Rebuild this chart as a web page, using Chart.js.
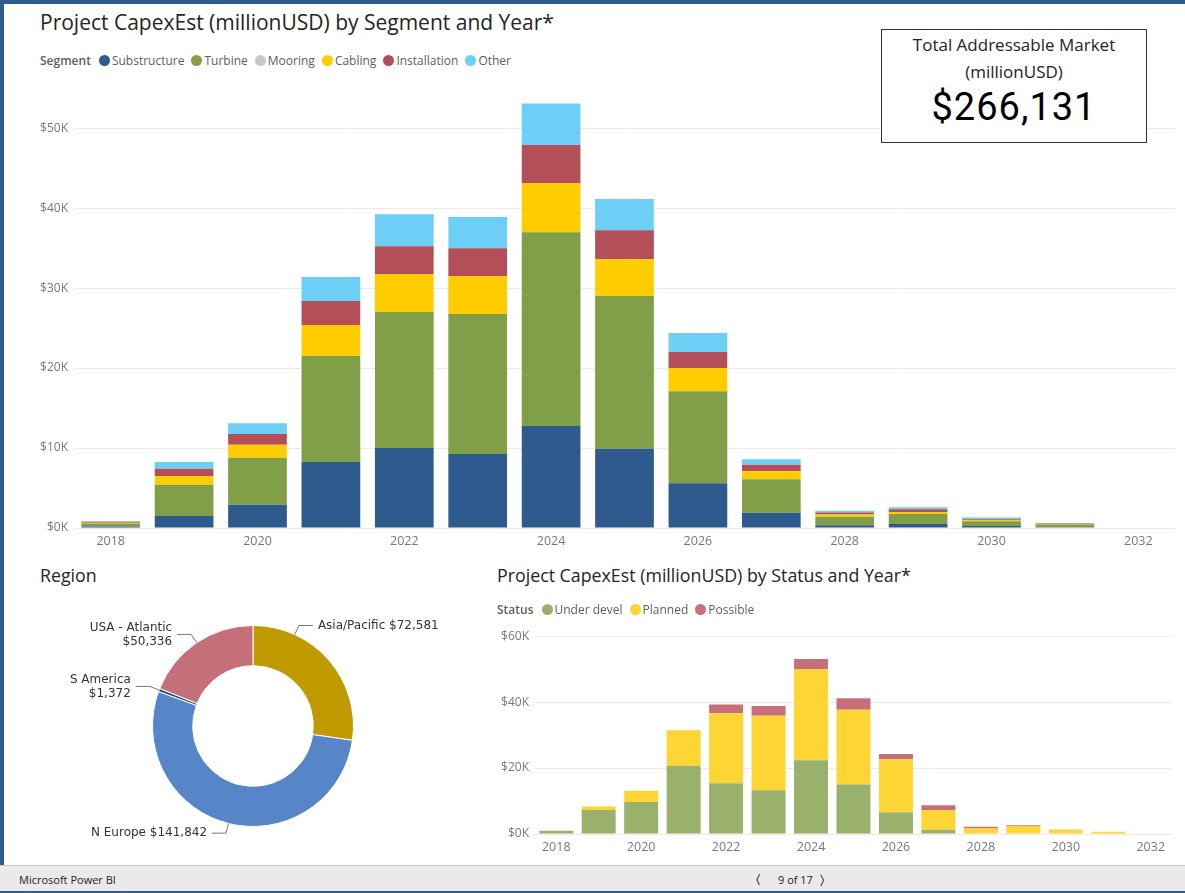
<!DOCTYPE html>
<html>
<head>
<meta charset="utf-8">
<script src="https://cdn.jsdelivr.net/npm/chart.js@4.4.0/dist/chart.umd.min.js"></script>
<style>
    body { margin: 0; background: #fff; font-family: "Segoe UI", "Open Sans", sans-serif; }
    #page { position: relative; width: 1185px; height: 893px; overflow: hidden; background: #fff; }
    .abs { position: absolute; }
    .title { color: #252423; white-space: nowrap; }
    .legend { display: flex; align-items: center; font-size: 12px; color: #605E5C; white-space: nowrap; }
    .legend b { color: #605E5C; margin-right: 8px; font-weight: 600; }
    .legend span.item { display: inline-flex; align-items: center; margin-right: 7px; }
    .legend i { display: inline-block; width: 11px; height: 11px; border-radius: 50%; margin-right: 2px; }
    #kpi { left: 881px; top: 29px; width: 264px; height: 112px; border: 1.5px solid #333; background: #fff; text-align: center; }
    #footer { left: 0; top: 865px; width: 1185px; height: 25px; background: #EAEAEA; border-top: 1px solid #C8C8C8; font-size: 11px; color: #252423; }
</style>
</head>
<body>
<div id="page">
    <div class="abs" style="left:0;top:0;width:1185px;height:4px;background:#2F5C8C"></div>
    <div class="abs" style="left:0;top:0;width:4px;height:893px;background:#2F5C8C"></div>
    <div class="abs" style="left:0;top:890px;width:1185px;height:3px;background:#2F5C8C"></div>

    <div class="abs title" style="left:40px;top:8px;font-size:21px">Project CapexEst (millionUSD) by Segment and Year*</div>
    <div class="abs legend" id="legendTop" style="left:40px;top:52px"></div>
    <canvas class="abs" id="segChart" width="1165" height="480" style="left:10px;top:75px"></canvas>

    <div class="abs" id="kpi">
        <div style="font-size:17px;color:#252423;margin-top:1px;line-height:27px">Total Addressable Market<br>(millionUSD)</div>
        <div style="font-family:Roboto, sans-serif;font-size:38px;color:#000;line-height:44px;letter-spacing:1px">$266,131</div>
    </div>

    <div class="abs title" style="left:40px;top:563px;font-size:17.8px">Region</div>
    <canvas class="abs" id="regionChart" width="506" height="252" style="left:0px;top:600px"></canvas>

    <div class="abs title" style="left:497px;top:563px;font-size:17.8px">Project CapexEst (millionUSD) by Status and Year*</div>
    <div class="abs legend" id="legendBottom" style="left:497px;top:601px"></div>
    <canvas class="abs" id="statusChart" width="685" height="238" style="left:490px;top:623px"></canvas>

    <div class="abs" id="footer">
        <span class="abs" style="left:19px;top:6px">Microsoft Power BI</span>
        <span class="abs" style="left:756px;top:4px;font-size:13px">&#x2329;</span>
        <span class="abs" style="left:778px;top:6px">9 of 17</span>
        <span class="abs" style="left:820px;top:4px;font-size:13px">&#x232A;</span>
    </div>
</div>

<script>
// data (millionUSD)
const years = ['2018', '2019', '2020', '2021', '2022', '2023', '2024', '2025', '2026', '2027', '2028', '2029', '2030', '2031', '2032'];

const substructure = [200, 1500, 2900, 8250, 10000, 9250, 12750, 9900, 5600, 1900, 350, 500, 250, 100, 0];
const turbine      = [350, 3900, 5900, 13250, 17000, 17500, 24250, 19100, 11500, 4200, 1050, 1250, 600, 300, 0];
const mooring      = [0, 0, 0, 0, 0, 0, 0, 0, 0, 0, 0, 0, 0, 0, 0];
const cabling      = [120, 1100, 1600, 3900, 4750, 4750, 6100, 4600, 2900, 1000, 300, 250, 150, 50, 0];
const installation = [120, 900, 1350, 3000, 3500, 3500, 4800, 3650, 2000, 800, 250, 350, 100, 100, 0];
const other        = [60, 850, 1350, 3000, 4000, 3900, 5200, 3900, 2400, 700, 200, 250, 200, 50, 0];

const underDevel = [1000, 7300, 9700, 20700, 15400, 13300, 22400, 15000, 6600, 1300, 0, 0, 0, 0, 0];
const planned    = [0, 1050, 3400, 10800, 21200, 22600, 27600, 22700, 16100, 6000, 1700, 2450, 1350, 700, 0];
const possible   = [0, 0, 0, 0, 2700, 2900, 3100, 3500, 1600, 1450, 500, 200, 0, 0, 0];

const regions = ['Asia/Pacific', 'N Europe', 'S America', 'USA - Atlantic'];
const regionValues = [72581, 141842, 1372, 50336];

const segNames = ['Substructure', 'Turbine', 'Mooring', 'Cabling', 'Installation', 'Other'];
const segColors = ['#2F5A8E', '#809F46', '#C8C8C8', '#FFCC00', '#B44E59', '#6DCFF6'];
const statusNames = ['Under devel', 'Planned', 'Possible'];
const statusColors = ['#9AB16C', '#FDD535', '#C8707A'];
const regionColors = ['#C09B00', '#5686C7', '#2B4E86', '#C57079'];

Chart.defaults.font.family = '"Segoe UI", "Open Sans", sans-serif';
Chart.defaults.color = '#777';

function buildLegend(id, title, names, colors) {
    const el = document.getElementById(id);
    let html = '<b>' + title + '</b>';
    names.forEach((n, i) => {
        html += '<span class="item"><i style="background:' + colors[i] + '"></i>' + n + '</span>';
    });
    el.innerHTML = html;
}
buildLegend('legendTop', 'Segment', segNames, segColors);
buildLegend('legendBottom', 'Status', statusNames, statusColors);

function kLabel(v) {
    return '$' + (v / 1000) + 'K';
}

// step = gridline spacing, fine = step that divides max evenly
function stackedOptions(max, step, fine, yWidth, rightPad, topPad) {
    return {
        responsive: false,
        animation: false,
        devicePixelRatio: 1,
        layout: { padding: { top: topPad, right: rightPad, left: 0, bottom: 0 } },
        plugins: { legend: { display: false }, tooltip: { enabled: false } },
        scales: {
            x: {
                stacked: true,
                grid: { display: false, drawTicks: false },
                border: { display: false },
                ticks: {
                    autoSkip: false,
                    maxRotation: 0,
                    padding: 6,
                    color: '#777',
                    font: { size: 12.5 },
                    callback: function (val, idx) { return idx % 2 === 0 ? this.getLabelForValue(val) : ''; }
                },
                afterFit: s => { s.height = 27; }
            },
            y: {
                stacked: true,
                min: 0,
                max: max,
                border: { display: false },
                grid: { color: '#EBEBEB', drawTicks: false },
                ticks: { stepSize: fine, padding: 6, color: '#777', font: { size: 12 }, callback: v => kLabel(v) },
                afterBuildTicks: s => { s.ticks = s.ticks.filter(t => Math.round(t.value) % step === 0); },
                afterFit: s => { s.width = yWidth; }
            }
        }
    };
}

// top chart: by segment
const segData = [substructure, turbine, mooring, cabling, installation, other];
new Chart(document.getElementById('segChart'), {
    type: 'bar',
    data: {
        labels: years,
        datasets: segData.map((d, i) => ({
            label: segNames[i],
            data: d,
            backgroundColor: segColors[i],
            barPercentage: 0.8,
            categoryPercentage: 1
        }))
    },
    options: stackedOptions(55000, 10000, 5000, 64, 0, 4)
});

// bottom chart: by status
const statusData = [underDevel, planned, possible];
new Chart(document.getElementById('statusChart'), {
    type: 'bar',
    data: {
        labels: years,
        datasets: statusData.map((d, i) => ({
            label: statusNames[i],
            data: d,
            backgroundColor: statusColors[i],
            barPercentage: 0.8,
            categoryPercentage: 1
        }))
    },
    options: stackedOptions(60000, 20000, 20000, 45, 3, 4)
});

// donut labels with leader lines
// where along each slice the leader starts (0 = slice start, 1 = slice end)
const anchorFrac = [0.25, 0.5, 0.5, 0.5];

const leaderLabels = {
    id: 'leaderLabels',
    afterDatasetsDraw(chart) {
        const ctx = chart.ctx;
        const meta = chart.getDatasetMeta(0);
        ctx.save();
        ctx.strokeStyle = '#777';
        ctx.lineWidth = 1;
        ctx.fillStyle = '#333';
        ctx.font = '12px "DejaVu Sans", sans-serif';
        ctx.textBaseline = 'middle';
        meta.data.forEach((arc, i) => {
            const p = arc.getProps(['x', 'y', 'startAngle', 'endAngle', 'outerRadius']);
            const a = p.startAngle + (p.endAngle - p.startAngle) * anchorFrac[i];
            const cx = Math.cos(a), cy = Math.sin(a);
            const x0 = p.x + cx * p.outerRadius, y0 = p.y + cy * p.outerRadius;
            const x1 = x0 + cx * 10, y1 = y0 + cy * 10;
            const dir = cx >= 0 ? 1 : -1;
            const x2 = x1 + dir * 14;
            ctx.beginPath();
            ctx.moveTo(x0, y0);
            ctx.lineTo(x1, y1);
            ctx.lineTo(x2, y1);
            ctx.stroke();
            const val = '$' + regionValues[i].toLocaleString('en-US');
            ctx.textAlign = dir > 0 ? 'left' : 'right';
            const tx = x2 + dir * 5;
            if (dir < 0 && y1 < p.y) {
                ctx.fillText(regions[i], tx, y1 - 7);
                ctx.fillText(val, tx, y1 + 7);
            } else {
                ctx.fillText(regions[i] + ' ' + val, tx, y1);
            }
        });
        ctx.restore();
    }
};

new Chart(document.getElementById('regionChart'), {
    type: 'doughnut',
    data: {
        labels: regions,
        datasets: [{
            data: regionValues,
            backgroundColor: regionColors,
            borderColor: '#fff',
            borderWidth: 1
        }]
    },
    options: {
        responsive: false,
        animation: false,
        devicePixelRatio: 1,
        cutout: '60%',
        layout: { padding: 25 },
        plugins: { legend: { display: false }, tooltip: { enabled: false } }
    },
    plugins: [leaderLabels]
});
</script>
</body>
</html>
